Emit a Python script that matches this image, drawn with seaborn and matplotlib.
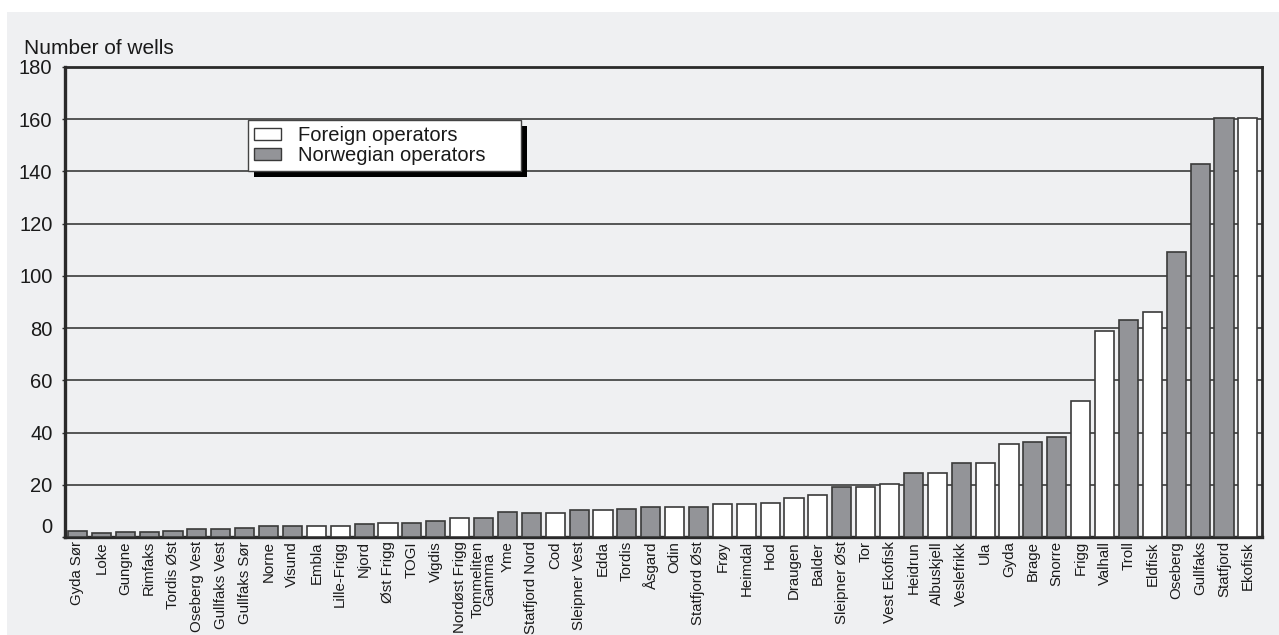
import matplotlib
matplotlib.use("Agg")
import matplotlib.pyplot as plt
import matplotlib.patheffects as pe
from matplotlib.patches import Rectangle
import seaborn as sns
import pandas as pd

# Development wells per field, split by type of operator
fields = [
    "Gyda Sør", "Loke", "Gungne", "Rimfaks", "Tordis Øst", "Oseberg Vest",
    "Gullfaks Vest", "Gullfaks Sør", "Norne", "Visund", "Embla", "Lille-Frigg",
    "Njord", "Øst Frigg", "TOGI", "Vigdis", "Nordøst Frigg", "Tommeliten\nGamma",
    "Yme", "Statfjord Nord", "Cod", "Sleipner Vest", "Edda", "Tordis", "Åsgard",
    "Odin", "Statfjord Øst", "Frøy", "Heimdal", "Hod", "Draugen", "Balder",
    "Sleipner Øst", "Tor", "Vest Ekofisk", "Heidrun", "Albuskjell", "Veslefrikk",
    "Ula", "Gyda", "Brage", "Snorre", "Frigg", "Valhall", "Troll", "Eldfisk",
    "Oseberg", "Gullfaks", "Statfjord", "Ekofisk",
]
wells = [
    2.3, 1.5, 1.8, 1.8, 2.4, 3.0,
    3.1, 3.3, 4.1, 4.3, 4.1, 4.3,
    4.9, 5.5, 5.2, 6.2, 7.1, 7.4,
    9.4, 9.3, 9.1, 10.3, 10.3, 10.6, 11.5,
    11.5, 11.4, 12.5, 12.5, 13.0, 15.0, 16.2,
    19.0, 19.3, 20.4, 24.4, 24.4, 28.4,
    28.4, 35.5, 36.2, 38.3, 52.0, 79.0, 83.0, 86.0,
    109.0, 143.0, 160.5, 160.5,
]
# F = foreign operator, N = Norwegian operator
operator_code = [
    "N", "N", "N", "N", "N", "N",
    "N", "N", "N", "N", "F", "F",
    "N", "F", "N", "N", "F", "N",
    "N", "N", "F", "N", "F", "N", "N",
    "F", "N", "F", "F", "F", "F", "F",
    "N", "F", "F", "N", "F", "N",
    "F", "F", "N", "N", "F", "F", "N", "F",
    "N", "N", "N", "F",
]
operator_names = {"F": "Foreign operators", "N": "Norwegian operators"}
y_ticks = [0, 20, 40, 60, 80, 100, 120, 140, 160, 180]

df = pd.DataFrame({
    "field": fields,
    "wells": wells,
    "operator": [operator_names[c] for c in operator_code],
})

panel_bg = "#eff0f2"
bar_grey = "#939498"
edge = "#3a3a3a"

sns.set_theme(style="white")
plt.rcParams["font.family"] = ["Liberation Sans", "DejaVu Sans"]

fig = plt.figure(figsize=(12.79, 6.35), dpi=100)
fig.patch.set_facecolor("white")
# light grey panel behind the chart
fig.patches.append(Rectangle((7 / 1279, 0), 1 - 7 / 1279, 1 - 12 / 635,
                             transform=fig.transFigure, facecolor=panel_bg,
                             edgecolor="none", zorder=-10))

ax = fig.add_axes([65 / 1279, 98 / 635, 1197 / 1279, 470 / 635])
ax.set_facecolor(panel_bg)

sns.barplot(
    data=df, x="field", y="wells", hue="operator",
    hue_order=["Foreign operators", "Norwegian operators"],
    palette={"Foreign operators": "white", "Norwegian operators": bar_grey},
    dodge=False, width=0.8, edgecolor=edge, linewidth=1.2,
    saturation=1, ax=ax, zorder=3,
)

ax.set_ylim(0, 180)
ax.set_xlim(-0.52, len(fields) - 1 + 0.59)
ax.set_yticks(y_ticks)
ax.set_xlabel("")
ax.set_ylabel("")

ax.yaxis.grid(True, color="#2b2b2b", linewidth=1.1, zorder=0)
ax.xaxis.grid(False)
ax.set_axisbelow(True)

for side, lw in {"left": 2.4, "bottom": 2.4, "top": 2.0, "right": 2.0}.items():
    ax.spines[side].set_visible(True)
    ax.spines[side].set_color("#2a2a2a")
    ax.spines[side].set_linewidth(lw)

ax.tick_params(axis="y", which="major", length=2, width=1, color="#2a2a2a",
               pad=7, labelsize=14.5, labelcolor="#1a1a1a", left=True)
ax.tick_params(axis="x", which="major", length=0, pad=3)
ax.set_xticks(range(len(fields)))
ax.set_xticklabels(fields, rotation=90, color="#1a1a1a", linespacing=0.8,
                   fontsize=10.8)
ax.yaxis.get_major_ticks()[0].label1.set_va("bottom")

fig.text(24 / 1279, 1 - 54 / 635, "Number of wells", fontsize=15,
         color="#1a1a1a", va="baseline", ha="left")

leg = ax.legend(
    loc="upper left", bbox_to_anchor=(0.153, 0.0, 0.228, 0.887),
    mode="expand", borderaxespad=0,
    frameon=True, fancybox=False, fontsize=14.5, handlelength=1.35,
    handleheight=0.5, handletextpad=0.85, labelspacing=0.05, borderpad=0.3,
)
frame = leg.get_frame()
frame.set_facecolor("white")
frame.set_edgecolor("#444444")
frame.set_linewidth(1.0)
frame.set_alpha(1)
frame.set_path_effects([
    pe.SimplePatchShadow(offset=(4, -4), shadow_rgbFace="black", alpha=1),
    pe.Normal(),
])
for txt in leg.get_texts():
    txt.set_color("#1a1a1a")
for h in leg.legend_handles:
    h.set_edgecolor(edge)
    h.set_linewidth(1.0)

fig.savefig("out.png", dpi=100, facecolor="white")
